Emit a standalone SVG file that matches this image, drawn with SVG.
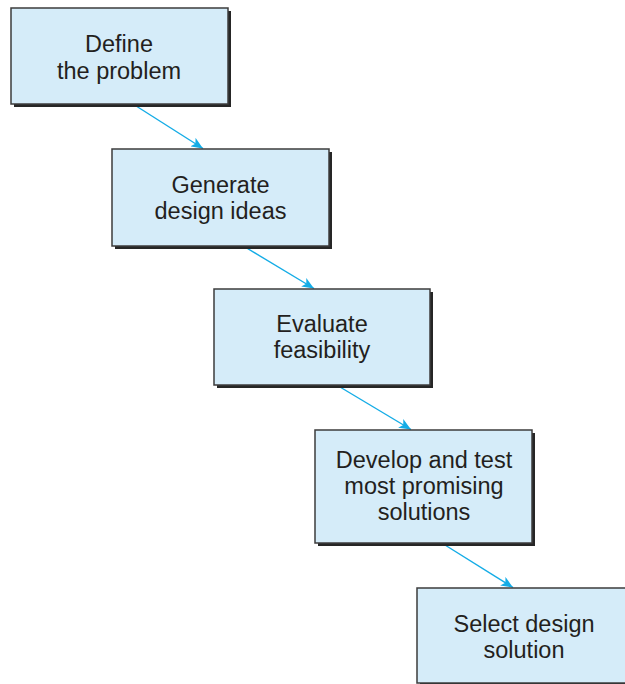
<svg xmlns="http://www.w3.org/2000/svg" width="625" height="684" viewBox="0 0 625 684">
<defs>
<style>
.shadow{fill:#262626;}
.box{fill:#d5ecf9;stroke:#3c3c3c;stroke-width:1.5;}
.lbl{font-family:"Liberation Sans",Arial,Helvetica,sans-serif;font-size:23.5px;fill:#231f20;text-anchor:middle;}
.conn{stroke:#14ace6;stroke-width:1.4;fill:none;marker-end:url(#ah);}
</style>
<marker id="ah" viewBox="0 0 12 10" refX="12" refY="5" markerWidth="12" markerHeight="10" markerUnits="userSpaceOnUse" orient="auto">
<path d="M0,0 L12,5 L0,10 L3,5 Z" fill="#14ace6"/>
</marker>
</defs>
<rect width="625" height="684" fill="#ffffff"/>
<g id="connectors">
<line class="conn" x1="133" y1="104" x2="203" y2="148.5"/>
<line class="conn" x1="245" y1="247" x2="314" y2="288.5"/>
<line class="conn" x1="340" y1="387" x2="411" y2="429.5"/>
<line class="conn" x1="445" y1="545" x2="513" y2="587.5"/>
</g>
<g id="node1">
<rect class="shadow" x="14" y="11" width="217" height="96"/>
<rect class="box" x="11" y="8" width="217" height="96"/>
<text class="lbl" x="119" y="52">Define</text>
<text class="lbl" x="119" y="79">the problem</text>
</g>
<g id="node2">
<rect class="shadow" x="115" y="152" width="217" height="97"/>
<rect class="box" x="112" y="149" width="217" height="97"/>
<text class="lbl" x="220.5" y="193">Generate</text>
<text class="lbl" x="220.5" y="219">design ideas</text>
</g>
<g id="node3">
<rect class="shadow" x="217" y="292" width="216" height="96"/>
<rect class="box" x="214" y="289" width="216" height="96"/>
<text class="lbl" x="322" y="332">Evaluate</text>
<text class="lbl" x="322" y="358">feasibility</text>
</g>
<g id="node4">
<rect class="shadow" x="318" y="433" width="217" height="113"/>
<rect class="box" x="315" y="430" width="217" height="113"/>
<text class="lbl" x="424" y="468">Develop and test</text>
<text class="lbl" x="424" y="494">most promising</text>
<text class="lbl" x="424" y="520">solutions</text>
</g>
<g id="node5">
<rect class="shadow" x="420" y="591" width="216" height="95"/>
<rect class="box" x="417" y="588" width="216" height="95"/>
<text class="lbl" x="524" y="632">Select design</text>
<text class="lbl" x="524" y="658">solution</text>
</g>
</svg>
